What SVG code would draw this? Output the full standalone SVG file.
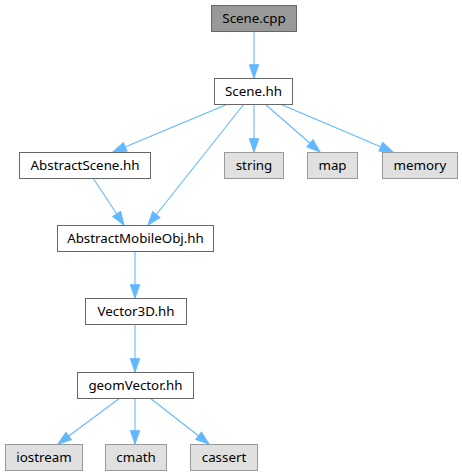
<svg xmlns="http://www.w3.org/2000/svg" width="462" height="476" viewBox="0 0 462 476">
<style>
text{font-family:"Noto Sans","DejaVu Sans",sans-serif;font-size:13.33px;fill:#000;text-anchor:middle}
.n rect{fill:#fff;stroke:#666;stroke-width:1}
.g rect{fill:#e0e0e0;stroke:#999;stroke-width:1}
.c rect{fill:#999;stroke:#666;stroke-width:1}
.e path{fill:none;stroke:#63b8ff;stroke-width:1.1}
</style>
<defs>
<marker id="a" markerUnits="userSpaceOnUse" markerWidth="15" markerHeight="12" viewBox="0 0 15 12" refX="14" refY="6" orient="auto">
<path d="M0.7,1.3 L14,6 L0.7,10.7 Z" fill="#63b8ff" stroke="#63b8ff" stroke-width="1"/>
</marker>
</defs>
<rect width="462" height="476" fill="#fff"/>
<g class="e" id="edges">
<path d="M254,31 L254,78" marker-end="url(#a)"/>
<path d="M228,104 L113,152" marker-end="url(#a)"/>
<path d="M244,104 L148,225" marker-end="url(#a)"/>
<path d="M93,178 L124,225" marker-end="url(#a)"/>
<path d="M254,104 L254,152" marker-end="url(#a)"/>
<path d="M265,104 L320,152" marker-end="url(#a)"/>
<path d="M280,104 L393,152" marker-end="url(#a)"/>
<path d="M135,251 L135,298" marker-end="url(#a)"/>
<path d="M135,324 L135,372" marker-end="url(#a)"/>
<path d="M120,398 L58,444" marker-end="url(#a)"/>
<path d="M135,398 L135,444" marker-end="url(#a)"/>
<path d="M150,398 L209,444" marker-end="url(#a)"/>
</g>
<g id="scene_cpp" class="c"><rect x="211.5" y="5.5" width="85" height="26"/><text x="254" y="23">Scene.cpp</text></g>
<g id="scene_hh" class="n"><rect x="214.5" y="78.5" width="78" height="26"/><text x="253.5" y="96">Scene.hh</text></g>
<g id="abstract_scene" class="n"><rect x="19.5" y="152.5" width="131" height="26"/><text x="85" y="170">AbstractScene.hh</text></g>
<g id="string" class="g"><rect x="224.5" y="152.5" width="59" height="26"/><text x="254" y="170">string</text></g>
<g id="map" class="g"><rect x="307.5" y="152.5" width="50" height="26"/><text x="332.5" y="170">map</text></g>
<g id="memory" class="g"><rect x="382.5" y="152.5" width="75" height="26"/><text x="420" y="170">memory</text></g>
<g id="abstract_mobile" class="n"><rect x="57.5" y="225.5" width="156" height="26"/><text x="135.5" y="243">AbstractMobileObj.hh</text></g>
<g id="vector3d" class="n"><rect x="85.5" y="298.5" width="101" height="26"/><text x="136" y="316">Vector3D.hh</text></g>
<g id="geomvector" class="n"><rect x="77.5" y="372.5" width="116" height="26"/><text x="135.5" y="390">geomVector.hh</text></g>
<g id="iostream" class="g"><rect x="5.5" y="444.5" width="77" height="26"/><text x="44" y="462">iostream</text></g>
<g id="cmath" class="g"><rect x="105.5" y="444.5" width="61" height="26"/><text x="136" y="462">cmath</text></g>
<g id="cassert" class="g"><rect x="190.5" y="444.5" width="67" height="26"/><text x="224" y="462">cassert</text></g>
</svg>
